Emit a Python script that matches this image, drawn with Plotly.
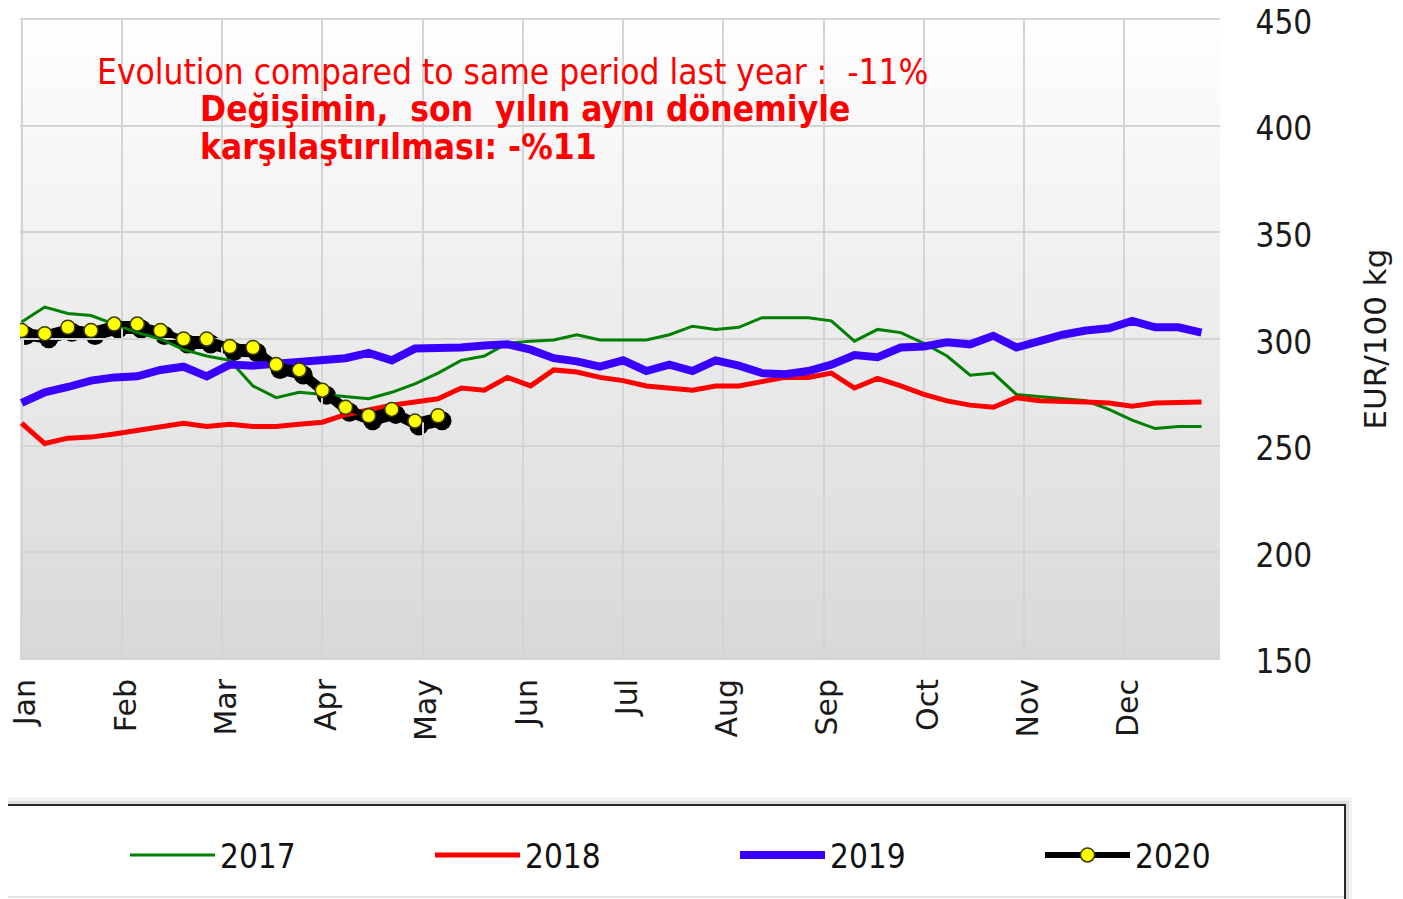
import plotly.graph_objects as go

# ---------------- data ----------------
months = ["Jan", "Feb", "Mar", "Apr", "May", "Jun", "Jul", "Aug", "Sep", "Oct", "Nov", "Dec"]
month_pos = [i * 52 / 12 for i in range(12)]          # month tick positions in weeks
weeks = list(range(52))
weeks_2020 = list(range(19))
y_ticks = [150, 200, 250, 300, 350, 400, 450]

price_2017 = [308, 315, 312, 311, 307, 303, 300, 295, 292, 290,
              278, 272.5, 275, 274, 273, 272, 275, 279, 284, 290,
              292, 298, 299, 299.5, 302, 299.5, 299.5, 299.5, 302, 306,
              304.5, 305.5, 310, 310, 310, 308.5, 299, 304.5, 303, 298,
              292, 283, 284, 274, 273, 272, 271, 267, 262, 258,
              259, 259]
price_2018 = [260.5, 251, 253.5, 254, 255.5, 257, 259, 260.5, 259, 260,
              259, 259, 260, 261, 264.5, 267, 269, 270.5, 272, 277,
              276, 282, 278, 285.5, 284.5, 282, 280.5, 278, 277, 276,
              278, 278, 280, 282, 282, 284, 277, 281.5, 278, 274,
              271, 269, 268, 272.5, 271, 271, 270.5, 270, 268.5, 270,
              270.5, 270.5]
price_2019 = [270, 275, 277.5, 280.5, 282, 282.5, 285.5, 287, 282.5, 288,
              287.5, 288.5, 289.5, 290, 291, 293.5, 290, 295.5, 295.5, 296,
              297, 297.5, 295, 291, 289.5, 287, 290, 285, 288, 285,
              290, 287.5, 284, 283.5, 285, 288, 292.5, 291.5, 296, 296.5,
              298.5, 297.5, 301.5, 296, 299, 302, 304, 305, 308.5, 305.5,
              305.5, 303]
price_2020 = [304, 302.5, 305.5, 304, 307, 307, 304, 300, 300, 296.5,
              296, 288, 285.5, 276, 268, 264, 267, 261.5, 264]

series = [("2017", price_2017, "#008000", 3),
          ("2018", price_2018, "#ff0000", 5),
          ("2019", price_2019, "#3a00ff", 8)]

# ---------------- geometry helpers (window pixels; page body adds 8px) ----------------
W, H = 1403, 899
BODY = 8
L, R, T, B = 20, 1400, 18, 665      # outer plotting region in window px
PW, PH = R - L, B - T
SX, SY = 4, 5                        # shadow offset (px)
XR = [-0.07, 51.8]
YR = [149.5, 450.5]


def px(x):
    return (x - L) / PW


def py(y):
    return (B - y) / PH


def dx(x):
    return (x - 20) / 1200


def dy(y):
    return (660 - y) / 642


fig = go.Figure()

# soft drop shadow for the 2020 series (same data, axes shifted a few px)
fig.add_trace(go.Scatter(x=weeks_2020, y=price_2020, xaxis="x", yaxis="y",
                         mode="lines+markers", showlegend=False, hoverinfo="skip",
                         line=dict(color="black", width=10),
                         marker=dict(size=19, color="black")))

for name, data, color, width in series:
    fig.add_trace(go.Scatter(x=weeks, y=data, name=name, xaxis="x2", yaxis="y2",
                             mode="lines", line=dict(color=color, width=width)))

fig.add_trace(go.Scatter(x=weeks_2020, y=price_2020, name="2020", xaxis="x2", yaxis="y2",
                         mode="lines+markers", line=dict(color="black", width=6),
                         marker=dict(size=14, color="#ffff00",
                                     line=dict(color="#3a3a00", width=1.5))))

# ---------------- decoration shapes ----------------
shapes = []
N = 64
for i in range(N):
    y0 = 18 + (660 - 18) * i / N
    y1 = min(660, 18 + (660 - 18) * (i + 1) / N + 2)
    g = round(255 - (255 - 216) * (i + 0.5) / N)
    shapes.append(dict(type="rect", xref="paper", yref="paper", layer="below",
                       x0=px(20), x1=px(1220), y0=py(y1), y1=py(y0),
                       fillcolor=f"rgb({g},{g},{g})", line=dict(width=0)))

# legend box with shadow
shapes.append(dict(type="rect", xref="paper", yref="paper", layer="below",
                   x0=px(-6), x1=px(1352), y0=py(940), y1=py(797),
                   fillcolor="rgba(0,0,0,0.05)", line=dict(width=0)))
shapes.append(dict(type="rect", xref="paper", yref="paper", layer="below",
                   x0=px(-6), x1=px(1349), y0=py(940), y1=py(801),
                   fillcolor="rgba(0,0,0,0.08)", line=dict(width=0)))
shapes.append(dict(type="rect", xref="paper", yref="paper", layer="below",
                   x0=px(-6), x1=px(1345), y0=py(940), y1=py(805),
                   fillcolor="white", line=dict(color="#2a2a2a", width=2)))
shapes.append(dict(type="line", xref="paper", yref="paper", layer="below",
                   x0=px(0), x1=px(1344), y0=py(897), y1=py(897),
                   line=dict(color="#c8c8c8", width=1)))

annotations = [
    dict(xref="paper", yref="paper", x=px(678), y=py(5), xanchor="center", yanchor="bottom",
         showarrow=False, text="<b>Latest price : 263 EUR/100kg</b>",
         font=dict(family="DejaVu Sans Condensed", size=27, color="#222222")),
    dict(xref="x2 domain", yref="y2 domain", x=dx(95), y=dy(72), xanchor="left", yanchor="middle",
         showarrow=False,
         text="Evolution compared to same period last year :\u00a0\u00a0-11%",
         font=dict(family="DejaVu Sans Condensed", size=35, color="#ff0000")),
    dict(xref="x2 domain", yref="y2 domain", x=dx(198), y=dy(109), xanchor="left", yanchor="middle",
         showarrow=False,
         text="<b>Değişimin,\u00a0\u00a0son\u00a0\u00a0yılın aynı dönemiyle</b>",
         font=dict(family="DejaVu Sans Condensed", size=35, color="#ff0000")),
    dict(xref="x2 domain", yref="y2 domain", x=dx(198), y=dy(147), xanchor="left", yanchor="middle",
         showarrow=False,
         text="<b>karşılaştırılması: -%11</b>",
         font=dict(family="DejaVu Sans Condensed", size=35, color="#ff0000")),
]

grid = "#d4d4d4"
fig.update_layout(
    width=W, height=H,
    margin=dict(l=L - BODY, r=W - R + BODY, t=T - BODY, b=H - B + BODY, pad=0, autoexpand=False),
    paper_bgcolor="white", plot_bgcolor="rgba(0,0,0,0)",
    showlegend=True,
    xaxis=dict(domain=[(20 + SX - L) / PW, (1220 + SX - L) / PW], range=XR,
               visible=False, anchor="y", automargin=False),
    yaxis=dict(domain=[(B - 660 - SY) / PH, (B - 18 - SY) / PH], range=YR,
               visible=False, anchor="x", automargin=False),
    xaxis2=dict(domain=[0, 1200 / PW], range=XR, anchor="y2", automargin=False,
                tickvals=month_pos, ticktext=months, tickangle=-90, ticklabeloverflow="allow",
                ticklabelshift=4,
                showgrid=True, gridcolor=grid, gridwidth=2, zeroline=False, showline=False,
                ticks="outside", ticklen=6, tickcolor="rgba(0,0,0,0)",
                tickfont=dict(family="DejaVu Sans", size=30, color="#1a1a1a")),
    yaxis2=dict(domain=[(B - 660) / PH, 1], range=YR, anchor="x2", side="right",
                automargin=False, ticklabeloverflow="allow", ticklabelshift=3,
                tickvals=y_ticks, showgrid=True, gridcolor=grid, gridwidth=2,
                zeroline=False, showline=False,
                ticks="outside", ticklen=28, tickcolor="rgba(0,0,0,0)",
                tickfont=dict(family="DejaVu Sans Condensed", size=33, color="#1a1a1a"),
                title=dict(text="EUR/100 kg", standoff=53,
                           font=dict(family="DejaVu Sans", size=31, color="#1a1a1a"))),
    legend=dict(orientation="h", x=px(125), y=py(855), xanchor="left", yanchor="middle",
                bgcolor="rgba(0,0,0,0)", borderwidth=0, itemwidth=85,
                entrywidth=205, entrywidthmode="pixels",
                font=dict(family="DejaVu Sans Condensed", size=33, color="#111111")),
    shapes=shapes,
    annotations=annotations,
)

fig.write_html("out.html")
